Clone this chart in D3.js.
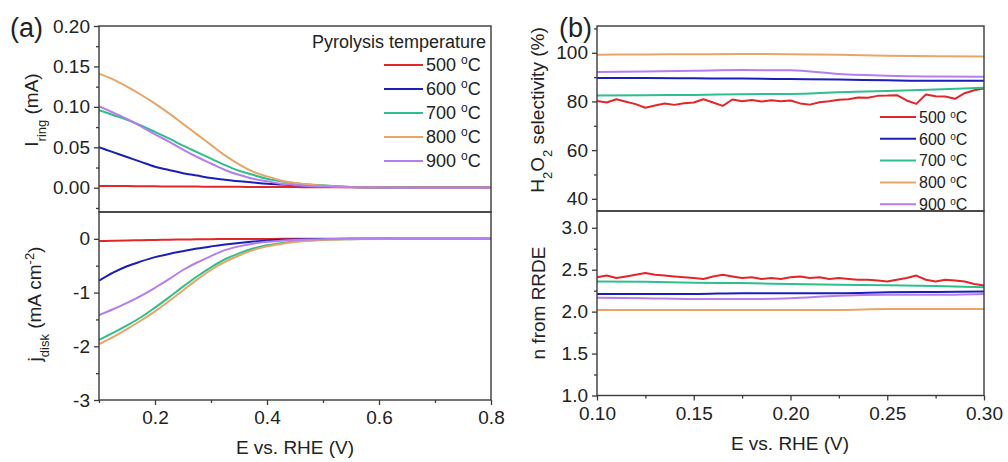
<!DOCTYPE html>
<html>
<head>
<meta charset="utf-8">
<script src="https://cdn.jsdelivr.net/npm/d3@7"></script>
<style>
  body { margin: 0; background: #fff; }
  svg text { font-family: "Liberation Sans", Arial, sans-serif; fill: #222; }
</style>
</head>
<body>
<script>
// ---- data ----
const temps = ["500", "600", "700", "800", "900"];
const lineColors = ["#e3262a", "#1c1fb6", "#2dbf8c", "#e9a566", "#b57eee"];

// panel (a): potential grid (V vs RHE)
const potA = [0.10, 0.125, 0.15, 0.175, 0.20, 0.225, 0.25, 0.275, 0.30, 0.325, 0.35, 0.375,
              0.40, 0.425, 0.45, 0.475, 0.50, 0.55, 0.60, 0.65, 0.70, 0.75, 0.80];

// ring current (mA)
const ring500 = [0.002, 0.002, 0.002, 0.0018, 0.0017, 0.0016, 0.0015, 0.0014, 0.0013, 0.0012, 0.0011, 0.001,
                 0.001, 0.0009, 0.0008, 0.0007, 0.0006, 0.0005, 0.0004, 0.0003, 0.0002, 0.0002, 0.0002];
const ring600 = [0.050, 0.044, 0.038, 0.032, 0.026, 0.022, 0.018, 0.015, 0.012, 0.010, 0.008, 0.0065,
                 0.005, 0.004, 0.003, 0.0025, 0.002, 0.001, 0.0005, 0.0002, 0, 0, 0];
const ring700 = [0.096, 0.090, 0.084, 0.077, 0.069, 0.061, 0.052, 0.044, 0.036, 0.028, 0.021, 0.016,
                 0.011, 0.008, 0.0055, 0.004, 0.003, 0.001, 0.0005, 0.0002, 0, 0, 0];
const ring800 = [0.141, 0.134, 0.125, 0.115, 0.104, 0.092, 0.079, 0.066, 0.053, 0.040, 0.029, 0.020,
                 0.014, 0.009, 0.006, 0.004, 0.0025, 0.001, 0.0005, 0.0002, 0, 0, 0];
const ring900 = [0.101, 0.093, 0.085, 0.076, 0.066, 0.057, 0.047, 0.038, 0.030, 0.022, 0.016, 0.011,
                 0.008, 0.005, 0.0035, 0.002, 0.0015, 0.0005, 0.0002, 0, 0, 0, 0];

// disk current density (mA cm-2)
const disk500 = [-0.04, -0.036, -0.03, -0.025, -0.02, -0.016, -0.012, -0.009, -0.006, -0.004, -0.003, -0.002,
                 -0.001, 0, 0, 0, 0, 0, 0, 0, 0, 0, 0];
const disk600 = [-0.78, -0.63, -0.51, -0.42, -0.34, -0.28, -0.23, -0.18, -0.14, -0.105, -0.075, -0.05,
                 -0.03, -0.018, -0.01, -0.005, -0.002, 0, 0, 0, 0, 0, 0];
const disk700 = [-1.88, -1.75, -1.61, -1.46, -1.28, -1.09, -0.89, -0.70, -0.53, -0.38, -0.27, -0.18,
                 -0.12, -0.08, -0.05, -0.03, -0.015, -0.005, 0, 0, 0, 0, 0];
const disk800 = [-1.96, -1.83, -1.68, -1.52, -1.35, -1.16, -0.96, -0.76, -0.58, -0.43, -0.31, -0.21,
                 -0.14, -0.095, -0.06, -0.035, -0.02, -0.007, -0.002, 0, 0, 0, 0];
const disk900 = [-1.42, -1.31, -1.19, -1.06, -0.91, -0.75, -0.58, -0.44, -0.32, -0.21, -0.14, -0.09,
                 -0.055, -0.035, -0.02, -0.01, -0.005, 0, 0, 0, 0, 0, 0];

// panel (b): coarse and fine potential grids
const potB = [0.10, 0.125, 0.15, 0.175, 0.20, 0.225, 0.25, 0.275, 0.30];
const potBFine = [0.100, 0.105, 0.110, 0.115, 0.120, 0.125, 0.130, 0.135, 0.140, 0.145,
                  0.150, 0.155, 0.160, 0.165, 0.170, 0.175, 0.180, 0.185, 0.190, 0.195,
                  0.200, 0.205, 0.210, 0.215, 0.220, 0.225, 0.230, 0.235, 0.240, 0.245,
                  0.250, 0.255, 0.260, 0.265, 0.270, 0.275, 0.280, 0.285, 0.290, 0.295, 0.300];

// H2O2 selectivity (%)
const sel500 = [80.2, 79.6, 80.9, 79.9, 78.9, 77.4, 78.3, 79.2, 78.6, 79.3,
                79.6, 80.9, 79.6, 78.2, 80.8, 80.1, 80.6, 80.0, 80.5, 80.1,
                80.4, 79.2, 78.7, 79.7, 80.1, 80.7, 80.9, 81.6, 81.5, 82.3,
                82.4, 82.6, 80.4, 79.0, 82.9, 82.1, 82.0, 81.1, 83.4, 84.6, 85.3];
const sel600 = [89.6, 89.6, 89.5, 89.4, 89.2, 89.0, 88.7, 88.5, 88.5];
const sel700 = [82.4, 82.6, 82.7, 83.0, 83.1, 83.8, 84.3, 84.9, 85.6];
const sel800 = [99.2, 99.3, 99.4, 99.5, 99.4, 99.2, 98.8, 98.6, 98.5];
const sel900 = [92.1, 92.3, 92.6, 92.9, 92.8, 91.3, 90.6, 90.3, 90.2];

// electron transfer number
const n500 = [2.41, 2.43, 2.40, 2.42, 2.44, 2.46, 2.44, 2.43, 2.42, 2.41,
              2.40, 2.39, 2.42, 2.44, 2.42, 2.40, 2.41, 2.39, 2.40, 2.39,
              2.41, 2.42, 2.40, 2.41, 2.39, 2.40, 2.39, 2.38, 2.38, 2.37,
              2.36, 2.38, 2.40, 2.43, 2.38, 2.36, 2.38, 2.37, 2.36, 2.33, 2.31];
const n600 = [2.21, 2.21, 2.21, 2.22, 2.22, 2.22, 2.23, 2.235, 2.24];
const n700 = [2.36, 2.355, 2.345, 2.34, 2.33, 2.32, 2.315, 2.305, 2.29];
const n800 = [2.02, 2.02, 2.02, 2.02, 2.02, 2.02, 2.03, 2.03, 2.03];
const n900 = [2.165, 2.16, 2.15, 2.15, 2.16, 2.19, 2.20, 2.20, 2.21];

// ---- drawing ----
const svg = d3.select("body").append("svg")
  .attr("width", 1008)
  .attr("height", 462);

const axisColor = "#3a3a3a";
const tickFont = "19px";

function drawPanel(cfg) {
  const g = svg.append("g");
  const x = d3.scaleLinear().domain(cfg.xDomain).range([cfg.x0, cfg.x1]);
  const y = d3.scaleLinear().domain(cfg.yDomain).range([cfg.yBottom, cfg.yTop]);

  const clipId = "clip" + cfg.id;
  svg.append("clipPath").attr("id", clipId)
    .append("rect")
    .attr("x", cfg.x0).attr("y", cfg.yTop)
    .attr("width", cfg.x1 - cfg.x0).attr("height", cfg.yBottom - cfg.yTop);

  // minor ticks on y
  g.append("g")
    .attr("transform", `translate(${cfg.x0},0)`)
    .call(d3.axisLeft(y).tickValues(cfg.yMinor).tickSize(3).tickSizeOuter(0).tickFormat(""))
    .call(a => a.select(".domain").remove())
    .call(a => a.selectAll("line").attr("stroke", axisColor).attr("stroke-width", 1.3));

  g.append("g")
    .attr("transform", `translate(${cfg.x0},0)`)
    .call(d3.axisLeft(y).tickValues(cfg.yTicks).tickSize(5).tickSizeOuter(0).tickPadding(4).tickFormat(cfg.yFormat))
    .call(a => a.select(".domain").remove())
    .call(a => a.selectAll("line").attr("stroke", axisColor).attr("stroke-width", 1.3))
    .call(a => a.selectAll("text").style("font-size", tickFont).attr("fill", "#222"));

  if (cfg.xAxis) {
    g.append("g")
      .attr("transform", `translate(0,${cfg.yBottom})`)
      .call(d3.axisBottom(x).tickValues(cfg.xMinor).tickSize(3).tickSizeOuter(0).tickFormat(""))
      .call(a => a.select(".domain").remove())
      .call(a => a.selectAll("line").attr("stroke", axisColor).attr("stroke-width", 1.3));
    g.append("g")
      .attr("transform", `translate(0,${cfg.yBottom})`)
      .call(d3.axisBottom(x).tickValues(cfg.xTicks).tickSize(5).tickSizeOuter(0).tickPadding(6).tickFormat(cfg.xFormat))
      .call(a => a.select(".domain").remove())
      .call(a => a.selectAll("line").attr("stroke", axisColor).attr("stroke-width", 1.3))
      .call(a => a.selectAll("text").style("font-size", tickFont).attr("fill", "#222"));
  }

  // series
  const line = d3.line().x(d => x(d[0])).y(d => y(d[1])).curve(d3.curveMonotoneX);
  cfg.series.forEach((s, i) => {
    const pts = s.xs.map((v, k) => [v, s.ys[k]]);
    g.append("path")
      .datum(pts)
      .attr("clip-path", `url(#${clipId})`)
      .attr("fill", "none")
      .attr("stroke", s.color)
      .attr("stroke-width", 2)
      .attr("stroke-linejoin", "round")
      .attr("d", s.jagged ? line.curve(d3.curveLinear)(pts) : line.curve(d3.curveMonotoneX)(pts));
  });

  // frame
  g.append("rect")
    .attr("x", cfg.x0).attr("y", cfg.yTop)
    .attr("width", cfg.x1 - cfg.x0).attr("height", cfg.yBottom - cfg.yTop)
    .attr("fill", "none")
    .attr("stroke", axisColor)
    .attr("stroke-width", 1.4);

  return { x, y, g };
}

function seriesFrom(xs, arrays, jaggedFirst, fineXs) {
  return arrays.map((ys, i) => ({
    xs: (i === 0 && fineXs) ? fineXs : xs,
    ys: ys,
    color: lineColors[i],
    jagged: i === 0 && jaggedFirst
  }));
}

// panel (a)
const aX = { x0: 99, x1: 491, xDomain: [0.1, 0.8] };
drawPanel(Object.assign({}, aX, {
  id: "a1", yTop: 26, yBottom: 212, yDomain: [-0.03, 0.20],
  yTicks: [0, 0.05, 0.10, 0.15, 0.20], yMinor: [-0.025, 0.025, 0.075, 0.125, 0.175],
  yFormat: d3.format(".2f"),
  series: seriesFrom(potA, [ring500, ring600, ring700, ring800, ring900], false)
}));
drawPanel(Object.assign({}, aX, {
  id: "a2", yTop: 212, yBottom: 400, yDomain: [-3, 0.5],
  yTicks: [-3, -2, -1, 0], yMinor: [-2.5, -1.5, -0.5],
  yFormat: d => String(d),
  xAxis: true, xTicks: [0.2, 0.4, 0.6, 0.8], xMinor: [0.1, 0.3, 0.5, 0.7], xFormat: d3.format(".1f"),
  series: seriesFrom(potA, [disk500, disk600, disk700, disk800, disk900], false)
}));

// panel (b)
const bX = { x0: 597, x1: 984, xDomain: [0.1, 0.3] };
drawPanel(Object.assign({}, bX, {
  id: "b1", yTop: 26, yBottom: 211, yDomain: [35, 111],
  yTicks: [40, 60, 80, 100], yMinor: [50, 70, 90, 110],
  yFormat: d => String(d),
  series: seriesFrom(potB, [sel500, sel600, sel700, sel800, sel900], true, potBFine)
}));
drawPanel(Object.assign({}, bX, {
  id: "b2", yTop: 211, yBottom: 395.5, yDomain: [1.0, 3.2],
  yTicks: [1.0, 1.5, 2.0, 2.5, 3.0], yMinor: [1.25, 1.75, 2.25, 2.75],
  yFormat: d3.format(".1f"),
  xAxis: true, xTicks: [0.10, 0.15, 0.20, 0.25, 0.30], xMinor: [0.125, 0.175, 0.225, 0.275], xFormat: d3.format(".2f"),
  series: seriesFrom(potB, [n500, n600, n700, n800, n900], true, potBFine)
}));

// panel letters
svg.append("text").attr("x", 10).attr("y", 37).style("font-size", "27px").text("(a)");
svg.append("text").attr("x", 559).attr("y", 37).style("font-size", "27px").text("(b)");

// axis titles
svg.append("text").attr("x", 295).attr("y", 454).attr("text-anchor", "middle")
  .style("font-size", "19px").text("E vs. RHE (V)");
svg.append("text").attr("x", 790).attr("y", 450).attr("text-anchor", "middle")
  .style("font-size", "19px").text("E vs. RHE (V)");

function yTitle(cx, cy, parts) {
  const t = svg.append("text")
    .attr("transform", `translate(${cx},${cy}) rotate(-90)`)
    .attr("text-anchor", "middle")
    .style("font-size", "19px");
  parts.forEach(p => {
    const ts = t.append("tspan").text(p.t);
    if (p.sub) ts.attr("baseline-shift", "sub").style("font-size", "13px");
    if (p.sup) ts.attr("baseline-shift", "super").style("font-size", "13px");
  });
}
yTitle(38, 110, [{ t: "I" }, { t: "ring", sub: true }, { t: " (mA)" }]);
yTitle(41, 304, [{ t: "j" }, { t: "disk", sub: true }, { t: " (mA cm" }, { t: "-2", sup: true }, { t: ")" }]);
yTitle(544, 110, [{ t: "H" }, { t: "2", sub: true }, { t: "O" }, { t: "2", sub: true }, { t: " selectivity (%)" }]);
yTitle(545, 303, [{ t: "n from RRDE" }]);

// legends
function legend(x0, lineLen, y0, step, fontSize) {
  temps.forEach((t, i) => {
    const yy = y0 + i * step;
    svg.append("line")
      .attr("x1", x0).attr("x2", x0 + lineLen)
      .attr("y1", yy).attr("y2", yy)
      .attr("stroke", lineColors[i]).attr("stroke-width", 2);
    const txt = svg.append("text")
      .attr("x", x0 + lineLen + 3).attr("y", yy + fontSize * 0.36)
      .style("font-size", fontSize + "px");
    txt.append("tspan").text(t + " ");
    txt.append("tspan").attr("baseline-shift", "super").style("font-size", Math.round(fontSize * 0.65) + "px").text("o");
    txt.append("tspan").text("C");
  });
}
svg.append("text").attr("x", 486).attr("y", 48).attr("text-anchor", "end")
  .style("font-size", "18px").text("Pyrolysis temperature");
legend(384, 39, 65, 24, 18);
legend(880, 36, 117, 21.8, 16);
</script>
</body>
</html>
